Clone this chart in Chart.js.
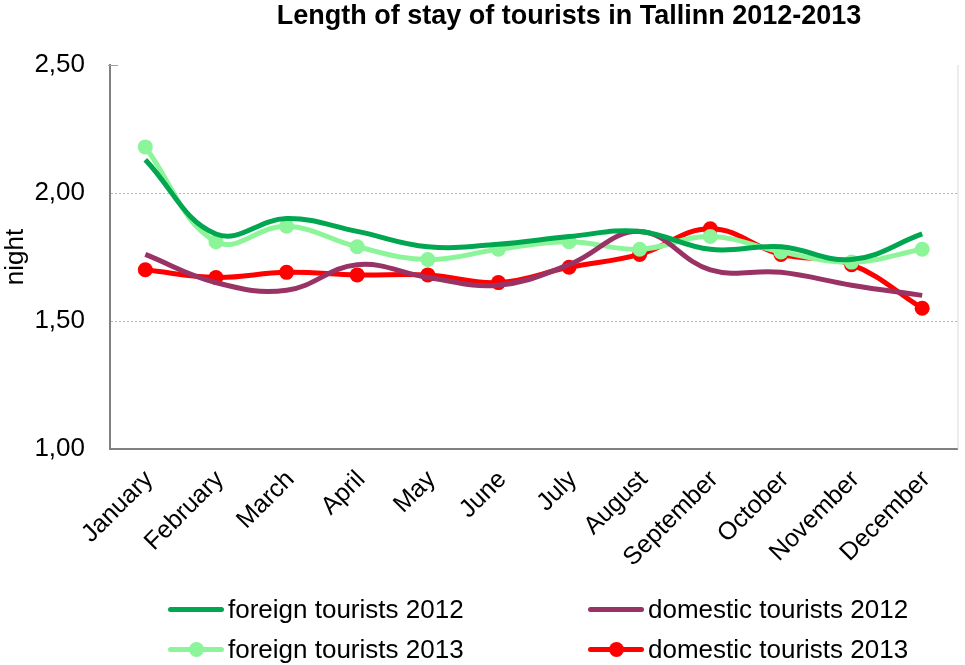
<!DOCTYPE html>
<html>
<head>
<meta charset="utf-8">
<script src="https://cdn.jsdelivr.net/npm/chart.js@4/dist/chart.umd.min.js"></script>
<style>
  html, body { margin: 0; padding: 0; background: #fff; }
  #wrap { position: relative; width: 965px; height: 665px; font-family: "Liberation Sans", Arial, sans-serif; overflow: hidden; }
  #title { position: absolute; left: 0; width: 1138px; top: 0px; text-align: center; font-weight: bold; font-size: 27px; color: #000; }
  canvas { position: absolute; left: 0; top: 0; }
  .lg { position: absolute; height: 30px; display: flex; align-items: center; font-size: 26px; color: #000; white-space: nowrap; }
  .lg .sw { position: relative; width: 56px; height: 30px; margin-right: 4px; }
  .lg .sw .ln { position: absolute; left: 0; right: 0; top: 13px; height: 5px; border-radius: 2.5px; }
  .lg .sw .pt { position: absolute; left: 20.5px; top: 8px; width: 15px; height: 15px; border-radius: 50%; }
</style>
</head>
<body>
<div id="wrap">
  <canvas id="c" width="965" height="665"></canvas>
  <div id="title">Length of stay of tourists in Tallinn 2012-2013</div>
  <div id="legend"></div>
</div>
<script>
const categories = ["January","February","March","April","May","June","July","August","September","October","November","December"];
const foreign2012 = [2.13, 1.84, 1.90, 1.85, 1.79, 1.80, 1.83, 1.85, 1.78, 1.79, 1.74, 1.84];
const domestic2012 = [1.76, 1.65, 1.62, 1.72, 1.67, 1.64, 1.72, 1.85, 1.70, 1.69, 1.64, 1.60];
const foreign2013 = [2.18, 1.81, 1.87, 1.79, 1.74, 1.78, 1.81, 1.78, 1.83, 1.77, 1.73, 1.78];
const domestic2013 = [1.70, 1.67, 1.69, 1.68, 1.68, 1.65, 1.71, 1.76, 1.86, 1.76, 1.72, 1.55];
const seriesNames = ["foreign tourists 2012", "domestic tourists 2012", "foreign tourists 2013", "domestic tourists 2013"];
const yTicks = [1.00, 1.50, 2.00, 2.50];

const colors = ["#00A650", "#993366", "#8CF59A", "#FF0000"];
const hasPoints = [false, false, true, true];
const seriesData = [foreign2012, domestic2012, foreign2013, domestic2013];

const datasets = seriesData.map((d, i) => ({
  label: seriesNames[i],
  data: d,
  borderColor: colors[i],
  backgroundColor: colors[i],
  borderWidth: 5,
  tension: 0.4,
  pointRadius: hasPoints[i] ? 7.5 : 0,
  pointHoverRadius: hasPoints[i] ? 7.5 : 0,
  pointBorderWidth: 0,
  borderCapStyle: 'butt'
}));

const frame = {
  id: 'frame',
  afterDraw(chart) {
    const a = chart.chartArea, ctx = chart.ctx;
    ctx.save();
    ctx.strokeStyle = '#d9d9d9';
    ctx.lineWidth = 1;
    ctx.beginPath();
    ctx.moveTo(a.right + 0.5, a.top);
    ctx.lineTo(a.right + 0.5, a.bottom);
    ctx.stroke();
    ctx.strokeStyle = '#a0a0a0';
    ctx.beginPath();
    ctx.moveTo(a.left - 2, a.top + 0.5);
    ctx.lineTo(a.left + 8, a.top + 0.5);
    ctx.stroke();
    ctx.restore();
  }
};

new Chart(document.getElementById('c'), {
  type: 'line',
  data: { labels: categories, datasets },
  options: {
    responsive: false,
    animation: false,
    layout: { padding: { top: 65, right: 3, left: 0, bottom: 0 } },
    plugins: { legend: { display: false }, title: { display: false }, tooltip: { enabled: false } },
    scales: {
      x: {
        offset: true,
        grid: { display: false, drawTicks: false },
        border: { display: true, color: '#808080', width: 2 },
        ticks: {
          color: '#000',
          font: { family: "Liberation Sans", size: 25 },
          minRotation: 45, maxRotation: 45,
          padding: 16,
          labelOffset: 4,
          autoSkip: false
        },
        afterFit(scale) { scale.height = 216; }
      },
      y: {
        min: 1.0, max: 2.5,
        afterBuildTicks(scale) { scale.ticks = yTicks.map(v => ({ value: v })); },
        grid: {
          drawTicks: false,
          color: (ctx) => (ctx.tick && (ctx.tick.value === 2.0 || ctx.tick.value === 1.5)) ? '#b4b4b4' : 'rgba(0,0,0,0)',
          lineWidth: 1
        },
        border: { display: true, color: '#808080', width: 2, dash: [2, 2] },
        ticks: {
          color: '#000',
          font: { family: "Liberation Sans", size: 26 },
          padding: 25,
          callback: (v) => Number(v).toFixed(2).replace('.', ',')
        },
        title: {
          display: true,
          text: 'night',
          color: '#000',
          font: { family: "Liberation Sans", size: 26 },
          padding: { top: 0, bottom: 0 }
        },
        afterFit(scale) { scale.width = 110; }
      }
    }
  },
  plugins: [frame]
});

const legendPos = [
  { left: 168, top: 594 }, { left: 588, top: 594 },
  { left: 168, top: 634 }, { left: 588, top: 634 }
];
const lg = document.getElementById('legend');
seriesNames.forEach((name, i) => {
  const el = document.createElement('div');
  el.className = 'lg';
  el.style.left = legendPos[i].left + 'px';
  el.style.top = legendPos[i].top + 'px';
  el.innerHTML = '<div class="sw"><div class="ln" style="background:' + colors[i] + '"></div>' +
    (hasPoints[i] ? '<div class="pt" style="background:' + colors[i] + '"></div>' : '') +
    '</div><span>' + name + '</span>';
  lg.appendChild(el);
});
</script>
</body>
</html>
